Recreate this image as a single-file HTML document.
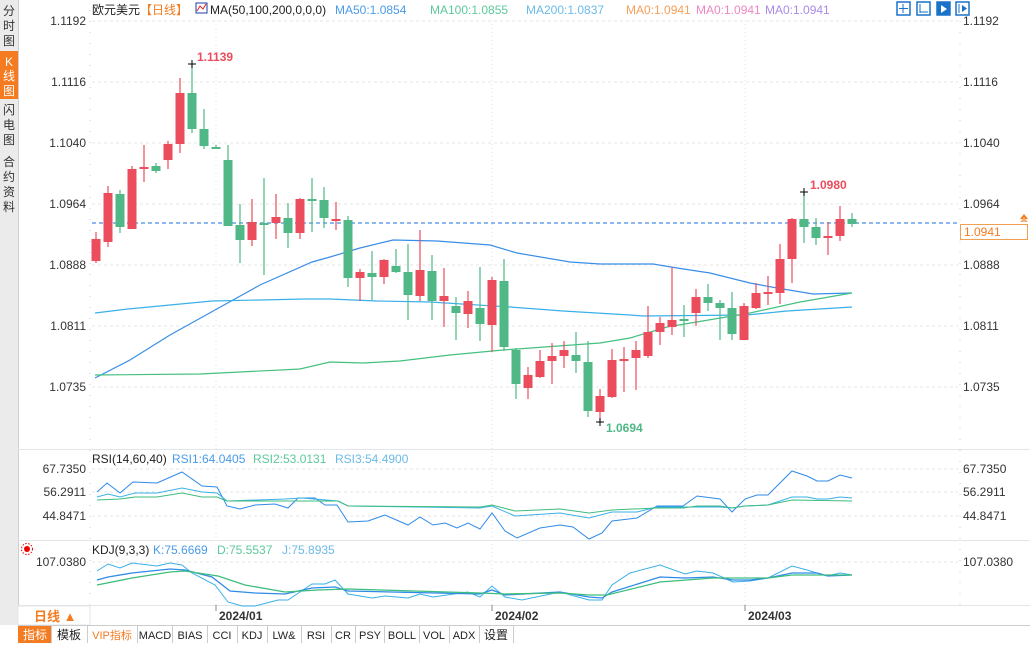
<!DOCTYPE html>
<html><head><meta charset="utf-8"><style>
body{margin:0;width:1030px;height:643px;overflow:hidden;background:#fff;font-family:"Liberation Sans","Noto Sans CJK SC",sans-serif}
svg text{font-family:"Liberation Sans","Noto Sans CJK SC",sans-serif}
</style></head><body>
<svg width="1030" height="643" xmlns="http://www.w3.org/2000/svg">
<rect x="0" y="0" width="18" height="625" fill="#ebebeb"/>
<line x1="18.5" y1="0" x2="18.5" y2="625" stroke="#cfcfcf"/>
<rect x="0" y="51" width="18" height="48" fill="#f47b20"/>
<g font-size="12" fill="#333" text-anchor="middle">
<text x="9" y="15">分</text><text x="9" y="30">时</text><text x="9" y="45">图</text>
<text x="9" y="66" fill="#fff">K</text><text x="9" y="80" fill="#fff">线</text><text x="9" y="95" fill="#fff">图</text>
<text x="9" y="114">闪</text><text x="9" y="129">电</text><text x="9" y="144">图</text>
<text x="9" y="166">合</text><text x="9" y="181">约</text><text x="9" y="196">资</text><text x="9" y="211">料</text>
</g>
<g stroke="#e4e4e4" stroke-dasharray="3,3">
<line x1="92" y1="21" x2="958" y2="21"/><line x1="92" y1="82" x2="958" y2="82"/><line x1="92" y1="143" x2="958" y2="143"/><line x1="92" y1="204" x2="958" y2="204"/><line x1="92" y1="265" x2="958" y2="265"/><line x1="92" y1="326" x2="958" y2="326"/><line x1="92" y1="387" x2="958" y2="387"/>
<line x1="92" y1="469" x2="958" y2="469"/><line x1="92" y1="492" x2="958" y2="492"/><line x1="92" y1="516" x2="958" y2="516"/>
<line x1="92" y1="562" x2="958" y2="562"/>
<line x1="216" y1="20" x2="216" y2="605" stroke-dasharray="1,3"/><line x1="492" y1="20" x2="492" y2="605" stroke-dasharray="1,3"/><line x1="745" y1="20" x2="745" y2="605" stroke-dasharray="1,3"/>
</g>
<g stroke="#ccc" stroke-dasharray="1,10"><line x1="90" y1="10" x2="90" y2="605"/><line x1="960" y1="10" x2="960" y2="605"/></g>
<g stroke="#e0e6ea"><line x1="18" y1="449.5" x2="1030" y2="449.5"/><line x1="18" y1="540.5" x2="1030" y2="540.5"/><line x1="18" y1="605.5" x2="1030" y2="605.5"/></g>
<g font-size="12" fill="#333">
<g text-anchor="end"><text x="86" y="25">1.1192</text><text x="86" y="86">1.1116</text><text x="86" y="147">1.1040</text><text x="86" y="208">1.0964</text><text x="86" y="269">1.0888</text><text x="86" y="330">1.0811</text><text x="86" y="391">1.0735</text>
<text x="86" y="473">67.7350</text><text x="86" y="496">56.2911</text><text x="86" y="520">44.8471</text><text x="86" y="566">107.0380</text></g>
<text x="963" y="25">1.1192</text><text x="963" y="86">1.1116</text><text x="963" y="147">1.1040</text><text x="963" y="208">1.0964</text><text x="963" y="269">1.0888</text><text x="963" y="330">1.0811</text><text x="963" y="391">1.0735</text>
<text x="963" y="473">67.7350</text><text x="963" y="496">56.2911</text><text x="963" y="520">44.8471</text><text x="963" y="566">107.0380</text>
</g>
<g font-size="12">
<text x="92" y="14" fill="#222">欧元美元</text><text x="140" y="14" fill="#f47b20">【日线】</text>
<rect x="196" y="3" width="11" height="10" fill="#fff" stroke="#1a3fa0"/><polyline points="197,11 200,6 203,9 206,4" fill="none" stroke="#d22" />
<text x="210" y="14" fill="#222">MA(50,100,200,0,0,0)</text>
<text x="335" y="14" fill="#4a9be8">MA50:1.0854</text><text x="430" y="14" fill="#5cc99a">MA100:1.0855</text><text x="526" y="14" fill="#6bbbe8">MA200:1.0837</text>
<text x="626" y="14" fill="#f5a05a">MA0:1.0941</text><text x="696" y="14" fill="#ef86c2">MA0:1.0941</text><text x="765" y="14" fill="#a98be6">MA0:1.0941</text>
</g>
<g fill="#fff" stroke="#1a72c9" stroke-width="1.5"><rect x="897" y="2" width="13" height="13"/><rect x="917" y="2" width="13" height="13"/><rect x="937" y="2" width="13" height="13" fill="#1a72c9"/><rect x="956" y="2" width="13" height="13"/></g>
<g stroke="#1a72c9"><line x1="903" y1="4" x2="903" y2="13"/><line x1="899" y1="8.5" x2="908" y2="8.5"/><line x1="920" y1="4" x2="920" y2="13"/><line x1="920" y1="12" x2="928" y2="12"/><line x1="959" y1="4" x2="959" y2="13"/></g>
<polygon points="941,5 947,9 941,13" fill="#fff"/><polygon points="962,5 967,8.5 962,12" fill="#1a72c9"/>
<polyline fill="none" stroke="#3a8ee6" stroke-width="1.2" points="95,378 130,360 170,335 215,310 260,285 312,262 330,257 360,248 393,240 437,241 490,245 517,253 570,262 600,264 653,264 677,268 710,273 750,283 777,288 813,294 852,293"/>
<polyline fill="none" stroke="#3ab0e8" stroke-width="1.2" points="95,313 128,309 170,305 212,301 305,299 330,299 377,301 430,302 510,307 563,311 630,315 643,316 747,315 787,311 852,307"/>
<polyline fill="none" stroke="#45c07f" stroke-width="1.2" points="95,375 200,374 300,369 330,362 363,363 400,361 450,355 503,350 600,343 630,338 667,327 750,313 800,302 852,293"/>
<line x1="92" y1="223" x2="958" y2="223" stroke="#1a72e0" stroke-dasharray="4,3"/>
<rect x="960.5" y="224.5" width="67" height="15" fill="#fff" stroke="#f0a050"/>
<text x="964" y="236" font-size="12" fill="#f47b20">1.0941</text>
<polygon points="1020,219 1024,214 1028,219" fill="#f47b20"/><polygon points="1020,222 1024,217 1028,222" fill="#f9b070"/>
<g id="c"></g>
<g font-size="12" font-weight="bold">
<text x="197" y="61" fill="#eb4d5c">1.1139</text><text x="810" y="189" fill="#eb4d5c">1.0980</text><text x="606" y="432" fill="#4fb886">1.0694</text>
</g>
<g stroke="#000"><line x1="188" y1="64" x2="196" y2="64"/><line x1="192" y1="60" x2="192" y2="68"/><line x1="800" y1="192" x2="808" y2="192"/><line x1="804" y1="188" x2="804" y2="196"/><line x1="596" y1="422" x2="604" y2="422"/><line x1="600" y1="418" x2="600" y2="426"/></g>
<text x="92" y="463" font-size="12" fill="#222">RSI(14,60,40)</text>
<text x="172" y="463" font-size="12" fill="#4a9be8">RSI1:64.0405</text><text x="253" y="463" font-size="12" fill="#5cc99a">RSI2:53.0131</text><text x="335" y="463" font-size="12" fill="#6bbbe8">RSI3:54.4900</text>
<polyline fill="none" stroke="#2f8ae8" points="97,492 107,483 120,493 133,482 157,483 182,472 202,486 217,487 227,506 240,509 255,505 275,504 288,508 298,498 315,498 325,505 337,505 348,522 368,521 385,515 408,525 420,517 433,525 445,523 457,528 468,523 480,529 492,513 505,531 517,538 540,528 560,525 573,527 589,539 602,533 612,521 637,518 657,506 683,506 697,496 720,499 732,512 745,499 757,495 768,495 792,471 807,476 817,481 828,481 840,475 852,478"/>
<polyline fill="none" stroke="#3ab0e8" points="97,497 108,494 120,497 135,493 157,493 182,488 202,492 217,493 227,501 285,499 302,498 338,501 348,506 418,507 480,508 492,506 515,516 560,513 589,518 612,512 637,512 657,507 720,507 732,508 745,506 768,505 792,497 807,497 817,499 828,499 840,497 852,498"/>
<polyline fill="none" stroke="#3dbd7d" points="97,500 120,499 135,497 157,497 182,493 202,497 217,497 227,501 338,501 348,506 480,507 492,505 515,511 560,509 589,513 612,510 657,508 683,508 697,506 720,506 732,508 745,506 768,505 792,500 852,501"/>
<circle cx="27" cy="549" r="3" fill="#e00"/><circle cx="27" cy="549" r="5.5" fill="none" stroke="#e00" stroke-dasharray="1.5,1.5"/>
<text x="92" y="554" font-size="12" fill="#222">KDJ(9,3,3)</text>
<text x="153" y="554" font-size="12" fill="#4a9be8">K:75.6669</text><text x="217" y="554" font-size="12" fill="#5cc99a">D:75.5537</text><text x="282" y="554" font-size="12" fill="#6bbbe8">J:75.8935</text>
<polyline fill="none" stroke="#3ab0e8" points="97,571 108,564 120,568 132,563 157,566 170,563 182,565 192,573 215,585 228,602 242,606 255,606 278,600 288,600 312,584 325,584 335,580 348,594 372,598 385,596 408,598 420,594 433,597 468,592 480,597 492,586 505,597 522,600 560,592 589,600 602,600 612,585 630,573 660,565 685,574 697,571 713,573 733,582 750,581 768,578 792,566 807,570 827,576 840,573 852,575"/>
<polyline fill="none" stroke="#2f8ae8" stroke-width="1.3" points="97,580 108,577 132,573 170,569 185,570 212,577 230,591 255,593 285,594 312,588 335,587 348,591 480,594 492,590 505,595 560,592 589,597 602,598 612,592 660,577 685,578 713,577 733,580 750,580 768,578 792,573 817,573 828,576 852,575"/>
<polyline fill="none" stroke="#3dbd7d" stroke-width="1.3" points="97,585 132,578 170,572 185,571 218,576 245,585 285,592 318,590 348,589 480,593 505,594 560,593 589,595 607,595 660,582 713,578 768,578 792,575 852,575"/>
<rect x="18" y="606" width="72" height="19" fill="#fff" stroke="#e0e6ea"/>
<text x="34" y="621" font-size="13" font-weight="bold" fill="#f47b20">日线 ▲</text>
<g stroke="#888"><line x1="216" y1="605" x2="216" y2="611"/><line x1="492" y1="605" x2="492" y2="611"/><line x1="745" y1="605" x2="745" y2="611"/></g>
<g font-size="12" font-weight="bold" fill="#333"><text x="219" y="620">2024/01</text><text x="495" y="620">2024/02</text><text x="748" y="620">2024/03</text></g>
<rect x="18" y="625" width="1012" height="18" fill="#fff"/>
<line x1="18" y1="625.5" x2="1030" y2="625.5" stroke="#ccc"/>
<rect x="18" y="626" width="33" height="17" fill="#f47b20"/>
<g font-size="11" fill="#222" text-anchor="middle" style="font-family:'Liberation Mono','Noto Sans CJK SC',monospace">
<text x="35" y="639" fill="#fff" font-size="12">指标</text><text x="69" y="639" font-size="12">模板</text><text x="112" y="639" fill="#f47b20">VIP指标</text>
<text x="155" y="639">MACD</text><text x="190" y="639">BIAS</text><text x="222" y="639">CCI</text><text x="252" y="639">KDJ</text><text x="284" y="639">LW&amp;</text><text x="316" y="639">RSI</text><text x="343" y="639">CR</text><text x="370" y="639">PSY</text><text x="402" y="639">BOLL</text><text x="434" y="639">VOL</text><text x="464" y="639">ADX</text><text x="496" y="639" font-size="12">设置</text>
</g>
<g stroke="#ccc"><line x1="51.5" y1="626" x2="51.5" y2="643"/><line x1="87.5" y1="626" x2="87.5" y2="643"/><line x1="137.5" y1="626" x2="137.5" y2="643"/><line x1="172.5" y1="626" x2="172.5" y2="643"/><line x1="207.5" y1="626" x2="207.5" y2="643"/><line x1="237.5" y1="626" x2="237.5" y2="643"/><line x1="267.5" y1="626" x2="267.5" y2="643"/><line x1="301.5" y1="626" x2="301.5" y2="643"/><line x1="331.5" y1="626" x2="331.5" y2="643"/><line x1="355.5" y1="626" x2="355.5" y2="643"/><line x1="384.5" y1="626" x2="384.5" y2="643"/><line x1="419.5" y1="626" x2="419.5" y2="643"/><line x1="449.5" y1="626" x2="449.5" y2="643"/><line x1="479.5" y1="626" x2="479.5" y2="643"/><line x1="513.5" y1="626" x2="513.5" y2="643"/></g>
</svg>
<script>
var d=[["r",239,261,232,263],["r",193,242,186,247],["g",194,227,190,233],["r",169,229,166,229],["r",167,169,145,182],["g",166,171,163,173],["r",144,160,141,169],["r",93,144,78,153],["g",93,129,64,133],["g",129,146,109,149],["g",147,149,145,149],["g",160,226,145,226],["g",225,240,204,263],["r",222,240,199,246],["g",223,225,178,275],["r",217,223,194,239],["g",218,233,203,248],["r",199,233,198,239],["g",199,201,178,232],["g",200,218,187,228],["r",219,220,202,230],["g",220,278,216,287],["r",272,278,269,301],["g",273,277,251,300],["r",260,277,259,284],["g",266,272,249,273],["g",272,295,244,320],["r",270,296,230,301],["g",271,301,255,320],["r",296,301,268,327],["g",306,313,297,340],["r",301,314,291,328],["g",308,324,267,341],["r",280,325,277,352],["g",281,347,259,351],["g",350,384,348,399],["r",375,388,367,399],["r",361,377,350,378],["r",356,361,343,384],["r",350,356,341,368],["g",355,361,332,373],["g",362,411,341,417],["r",396,412,389,422],["r",360,397,349,398],["r",359,361,347,392],["r",350,358,341,390],["r",332,356,306,358],["r",323,332,317,345],["r",320,327,267,335],["g",319,321,305,337],["r",297,313,289,326],["g",297,303,284,311],["g",303,308,300,340],["g",308,334,292,340],["r",306,340,303,340],["r",293,308,283,309],["r",292,294,276,305],["r",259,293,244,304],["r",219,259,218,283],["g",219,227,192,243],["g",227,238,218,245],["r",236,238,222,255],["r",219,236,206,241],["g",219,224,213,227]];
var s="";d.forEach(function(c,i){var x=96+i*12.0;var col=c[0]=="r"?"#eb4d5c":"#4fb886";
s+='<line x1="'+x+'" y1="'+c[3]+'" x2="'+x+'" y2="'+c[4]+'" stroke="'+col+'" stroke-width="1.2"/>';
s+='<rect x="'+(x-4.5)+'" y="'+c[1]+'" width="9" height="'+Math.max(2,c[2]-c[1])+'" fill="'+col+'"/>';});
document.getElementById("c").innerHTML=s;
</script>
</body></html>
